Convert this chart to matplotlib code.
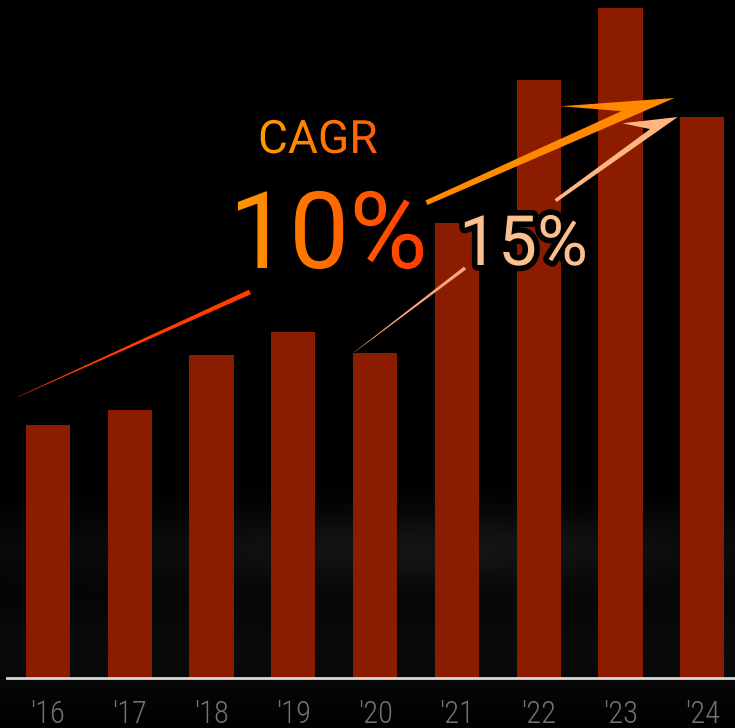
import numpy as np
import matplotlib
matplotlib.use('Agg')
import matplotlib.pyplot as plt
from matplotlib.patches import Polygon, PathPatch
from matplotlib.textpath import TextPath
from matplotlib.font_manager import FontProperties, fontManager
import matplotlib.transforms as mtransforms
import matplotlib.patheffects as pe

# data
years = ["'16", "'17", "'18", "'19", "'20", "'21", "'22", "'23", "'24"]
values = [253, 268, 323, 346, 325, 455, 598, 670, 561]

# annotation lines (x in bar index, y in value units)
cagr10_line = [(-0.37, 281), (2.47, 386)]
cagr10_arrow = [(4.64, 473), (7.66, 580)]
cagr15_line = [(3.75, 326), (5.10, 410)]
cagr15_arrow = [(6.22, 476), (7.70, 561)]

W, H = 735, 728
bar_color = '#8c1c00'

names = {f.name for f in fontManager.ttflist}
txt_font = 'Roboto' if 'Roboto' in names else 'DejaVu Sans'


def pick_tick_font():
    # narrow / light face for the year labels
    prefs = [
        lambda f: 'Condensed' in f.name and 'Roboto' in f.name and f.weight in (300, 'light'),
        lambda f: 'Condensed' in f.name and 'Roboto' in f.name,
        lambda f: f.name == 'DejaVu Sans' and 'condensed' in str(f.stretch) and f.weight in (200, 'extra-light', 'ultralight'),
        lambda f: f.name == 'DejaVu Sans' and 'condensed' in str(f.stretch) and f.style == 'normal' and f.weight in (400, 'normal'),
        lambda f: 'Narrow' in f.name and f.style == 'normal' and f.weight in (400, 'normal'),
        lambda f: f.name == 'Roboto' and f.weight in (300, 'light') and f.style == 'normal',
    ]
    for p in prefs:
        for f in fontManager.ttflist:
            if p(f):
                return FontProperties(fname=f.fname, size=22)
    return FontProperties(family='DejaVu Sans', size=20)


tick_fp = pick_tick_font()

fig = plt.figure(figsize=(W / 100, H / 100), dpi=100, facecolor='black')

# background glow
bg = fig.add_axes([0, 0, 1, 1], zorder=0)
yy, xx = np.mgrid[0:H, 0:W]
glow = 0.08 * np.exp(-((yy - 548) / 38.0) ** 2) * (0.35 + 0.65 * np.exp(-((xx - 430) / 260.0) ** 2))
glow += 0.04 * np.exp(-((yy - 650) / 55.0) ** 2)
bg.imshow(glow, cmap='gray', vmin=0, vmax=1, extent=(0, W, H, 0), aspect='auto')
bg.set_xlim(0, W)
bg.set_ylim(H, 0)
bg.axis('off')

# bars
ax = fig.add_axes([7 / W, 50 / H, 728 / W, 678 / H], zorder=1)
ax.patch.set_alpha(0)
x = np.arange(len(years))
ax.bar(x, values, width=0.54, color=bar_color, zorder=2)
ax.set_xlim(-0.5, 8.4)
ax.set_ylim(0, 678)
ax.axhline(0, color='#d8d8d8', lw=2, zorder=3, clip_on=False)
for s in ax.spines.values():
    s.set_visible(False)
ax.set_yticks([])
ax.set_xticks(x)
ax.set_xticklabels(years, color='#727272', fontproperties=tick_fp)
ax.tick_params(axis='x', length=0, pad=16)

# overlay in pixel coords (y down)
ov = fig.add_axes([0, 0, 1, 1], zorder=2)
ov.patch.set_alpha(0)
ov.set_xlim(0, W)
ov.set_ylim(H, 0)
ov.axis('off')


def to_px(pt):
    disp = ax.transData.transform(pt)
    return ov.transData.inverted().transform(disp)


def tapered(p0, p1, w0, w1, color):
    a, b = to_px(p0), to_px(p1)
    d = (b - a) / np.hypot(*(b - a))
    n = np.array([d[1], -d[0]])
    pts = [a - n * w0 / 2, b - n * w1 / 2, b + n * w1 / 2, a + n * w0 / 2]
    ov.add_patch(Polygon(pts, closed=True, fc=color, ec='none', zorder=3))


def arrow(p0, p1, w0, w1, barb_u, barb_v, color):
    a, b = to_px(p0), to_px(p1)
    L = np.hypot(*(b - a))
    d = (b - a) / L
    n = np.array([d[1], -d[0]])
    loc = [(0, 0), (L, 0), (barb_u * L, barb_v * L), (0.8 * L, w1), (0, w0)]
    pts = [a + d * u + n * v for u, v in loc]
    ov.add_patch(Polygon(pts, closed=True, fc=color, ec='none', zorder=3))


tapered(*cagr10_line, 0.3, 5, '#ff3d00')
arrow(*cagr10_arrow, 5, 9, 0.6, 0.14, '#ff8a00')
tapered(*cagr15_line, 0.3, 3.5, '#f7a877')
arrow(*cagr15_arrow, 3.5, 6, 0.67, 0.18, '#ffb580')


def grad_text(s, x0, base, size, c0, c1):
    tp = TextPath((0, 0), s, size=size, prop=FontProperties(family=txt_font))
    tr = mtransforms.Affine2D().scale(1, -1).translate(x0, base) + ov.transData
    patch = PathPatch(tp, transform=tr, fc='none', ec='none')
    ext = tp.get_extents()
    grad = np.linspace(0, 1, 256)[None, :]
    cmap = matplotlib.colors.LinearSegmentedColormap.from_list('g', [c0, c1])
    im = ov.imshow(grad, cmap=cmap,
                   extent=(x0 + ext.x0 - 2, x0 + ext.x1 + 2, base - ext.y0 + 2, base - ext.y1 - 2),
                   aspect='auto', zorder=4)
    im.set_clip_path(patch)


grad_text('CAGR', 258, 153, 46, '#ff9c00', '#ff5a08')
grad_text('10%', 229, 268, 107, '#ff9800', '#ff3a00')
ov.set_xlim(0, W)
ov.set_ylim(H, 0)

ov.text(459, 265, '15%', fontsize=50, family=txt_font, color='#fbbf90', zorder=5,
        path_effects=[pe.withStroke(linewidth=8, foreground='black')])

fig.savefig('out.png', dpi=100, facecolor='black')
